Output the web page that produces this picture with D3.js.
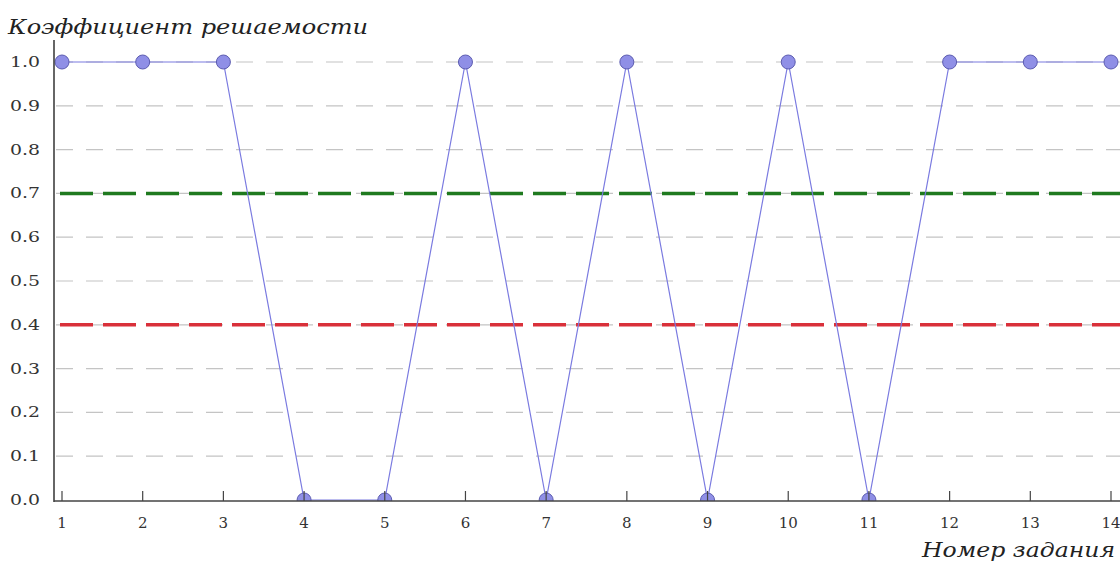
<!DOCTYPE html>
<html><head><meta charset="utf-8">
<script src="https://cdn.jsdelivr.net/npm/d3@7"></script>
<style>body{margin:0;background:#fff}svg{display:block}</style>
</head><body>
<svg id="c" width="1120" height="562"></svg>
<script>
const tasks = [1,2,3,4,5,6,7,8,9,10,11,12,13,14];
const solvability = [1,1,1,0,0,1,0,1,0,1,0,1,1,1];
const yTicks = [0,0.1,0.2,0.3,0.4,0.5,0.6,0.7,0.8,0.9,1.0];
const upperThreshold = 0.7;
const lowerThreshold = 0.4;
const yTitle = "Коэффициент решаемости";
const xTitle = "Номер задания";

(function(){
const svg = d3.select("#c");
const L = 54, R = 1120, T = 40, B = 501;
const x = d3.scaleLinear().domain([1,14]).range([62,1111]);
const y = d3.scaleLinear().domain([0,1]).range([500,62]);
const font = "'DejaVu Serif', serif";

svg.append("defs").append("clipPath").attr("id","plot")
  .append("rect").attr("x",L).attr("y",T).attr("width",R-L).attr("height",B-T);

// grid
svg.append("g").selectAll("line").data(yTicks.filter(d=>d>0)).join("line")
  .attr("x1",L+2).attr("x2",R).attr("y1",d=>y(d)).attr("y2",d=>y(d))
  .attr("stroke","#c4c4c4").attr("stroke-width",1.2).attr("stroke-dasharray","17,13");

// thresholds
svg.append("line").attr("x1",L+6).attr("x2",R).attr("y1",y(upperThreshold)).attr("y2",y(upperThreshold))
  .attr("stroke","#1f7a1f").attr("stroke-width",3.5).attr("stroke-dasharray","33,10");
svg.append("line").attr("x1",L+6).attr("x2",R).attr("y1",y(lowerThreshold)).attr("y2",y(lowerThreshold))
  .attr("stroke","#d9303a").attr("stroke-width",3.5).attr("stroke-dasharray","33,10");

// line + points
const pts = tasks.map((t,i)=>[t,solvability[i]]);
const g = svg.append("g").attr("clip-path","url(#plot)");
g.append("path").datum(pts)
  .attr("d",d3.line().x(d=>x(d[0])).y(d=>y(d[1])))
  .attr("fill","none").attr("stroke","#7a7ae0").attr("stroke-width",1.2);
g.selectAll("circle").data(pts).join("circle")
  .attr("cx",d=>x(d[0])).attr("cy",d=>y(d[1])).attr("r",7)
  .attr("fill","#8f8fe6").attr("stroke","#5c5cb0").attr("stroke-width",1);

// axes
svg.append("line").attr("x1",L).attr("x2",L).attr("y1",T).attr("y2",B+1)
  .attr("stroke","#333").attr("stroke-width",1.5);
svg.append("line").attr("x1",L).attr("x2",R).attr("y1",B).attr("y2",B)
  .attr("stroke","#444").attr("stroke-width",1.5);

// x ticks (inward)
svg.append("g").selectAll("line").data(tasks).join("line")
  .attr("x1",d=>x(d)).attr("x2",d=>x(d)).attr("y1",B).attr("y2",B-10)
  .attr("stroke","#444").attr("stroke-width",1.2);
svg.append("g").selectAll("text").data(tasks).join("text")
  .attr("x",d=>x(d)).attr("y",528).attr("text-anchor","middle")
  .attr("font-family",font).attr("font-size",15).attr("fill","#333").text(d=>d);

svg.append("g").selectAll("text").data(yTicks).join("text")
  .attr("x",40).attr("y",d=>y(d)+5).attr("text-anchor","end")
  .attr("font-family",font).attr("font-size",15).attr("fill","#333")
  .attr("textLength",30).attr("lengthAdjust","spacingAndGlyphs").text(d=>d.toFixed(1));

svg.append("text").attr("x",8).attr("y",34).attr("font-family",font).attr("font-style","italic")
  .attr("font-size",20).attr("fill","#222")
  .attr("textLength",360).attr("lengthAdjust","spacingAndGlyphs").text(yTitle);
svg.append("text").attr("x",922).attr("y",557).attr("font-family",font).attr("font-style","italic")
  .attr("font-size",21).attr("fill","#222")
  .attr("textLength",193).attr("lengthAdjust","spacingAndGlyphs").text(xTitle);
})();
</script>
</body></html>
